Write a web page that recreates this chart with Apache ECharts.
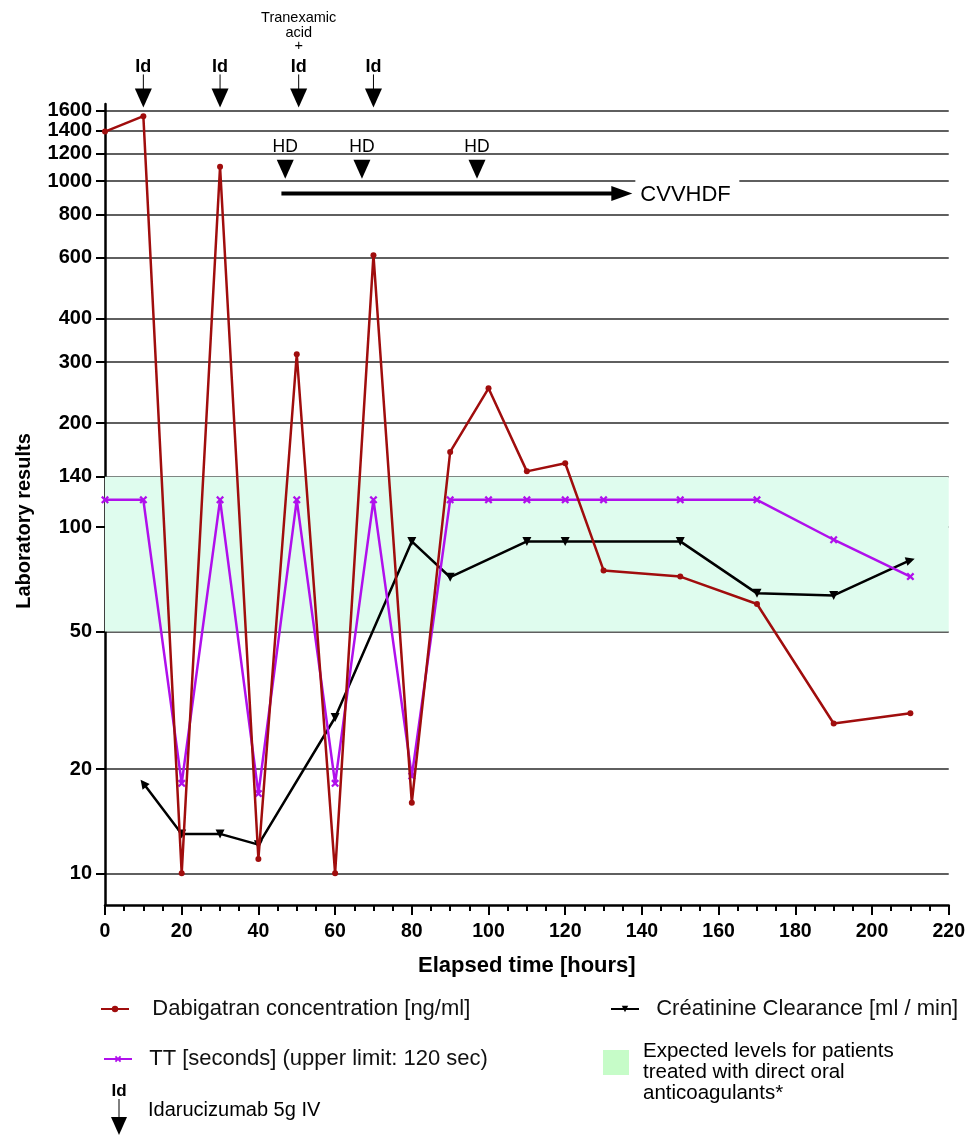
<!DOCTYPE html>
<html><head><meta charset="utf-8">
<script src="https://cdn.jsdelivr.net/npm/echarts@6/dist/echarts.min.js"></script>
<style>html,body{margin:0;padding:0;background:#fff}#c{width:968px;height:1135px}</style>
</head><body><div id="c"></div>
<script>
// ---- data ----
const hoursDabi = [0,10,20,30,40,50,60,70,80,90,100,110,120,130,150,170,190,210];
const dabigatran = [1390,1540,10,1100,11,316,10,611,16,165,252,145,153,75,72,60,27.1,29];
const hoursTT = [0,10,20,30,40,50,60,70,80,90,100,110,120,130,150,170,190,210];
const tt = [120,120,18.2,120,17.0,120,18.2,120,19.1,120,120,120,120,120,120,120,92,72];
const hoursCrCl = [10,20,30,40,60,80,90,110,120,150,170,190,210];
const crcl = [18.2,13.0,13.0,12.1,28.2,91,71.7,91,91,91,64.4,63.5,80.3];
const yTicks = [10,20,50,100,140,200,300,400,600,800,1000,1200,1400,1600];
const expectedRange = [50,140];
const idHours = [10,30,50.5,70];
const tranexamicHour = 50.5;
const hdHours = [47,67,97];
const cvvhdf = {start:46, end:137.5, level:920};

const names = {
  dabi:'Dabigatran concentration [ng/ml]',
  tt:'TT [seconds] (upper limit: 120 sec)',
  crcl:'Créatinine Clearance [ml / min]'
};
const FF = 'Liberation Sans, Arial, sans-serif';
const xSym = 'path://M0,2 L2,0 L5,3 L8,0 L10,2 L7,5 L10,8 L8,10 L5,7 L2,10 L0,8 L3,5 Z';

const pairs = (xs, ys) => xs.map((x,i)=>[x, ys[i]]);
const crclData = hoursCrCl.map((h,i)=>{
  const d = {value:[h, crcl[i]]};
  if (i===0) d.symbolRotate = 38;
  if (i===hoursCrCl.length-1) d.symbolRotate = -73;
  return d;
});

const chart = echarts.init(document.getElementById('c'));
const legendBase = {orient:'horizontal', padding:0, itemWidth:28, itemHeight:8,
  textStyle:{fontSize:22,color:'#111',fontFamily:FF}, selectedMode:false};
chart.setOption({
  animation:false,
  grid:{left:105, right:17, top:104, bottom:230},
  legend:[
    Object.assign({data:[names.dabi], left:100, top:998, formatter:'   {name}'}, legendBase),
    Object.assign({data:[names.tt], left:103, top:1048, formatter:'  {name}'}, legendBase),
    Object.assign({data:[names.crcl], left:610, top:998, formatter:'  {name}'}, legendBase)
  ],
  xAxis:{type:'value', min:0, max:220, interval:20,
    axisLine:{onZero:false, lineStyle:{color:'#000', width:2.5}},
    axisTick:{length:10, lineStyle:{color:'#000', width:2}},
    minorTick:{show:true, splitNumber:4, length:6, lineStyle:{color:'#000', width:2}},
    axisLabel:{color:'#000', fontWeight:'bold', fontSize:19.5, margin:17, fontFamily:FF},
    splitLine:{show:false}, minorSplitLine:{show:false},
    name:'Elapsed time [hours]', nameLocation:'middle', nameGap:50,
    nameTextStyle:{color:'#000', fontWeight:'bold', fontSize:22, fontFamily:FF}
  },
  yAxis:{type:'log', logBase:10, min:8.1, max:1670,
    axisLine:{show:true, onZero:false, lineStyle:{color:'#000', width:2.5}},
    axisTick:{show:true, length:9, customValues:yTicks, lineStyle:{color:'#000', width:2}},
    axisLabel:{customValues:yTicks, formatter:v=>String(Math.round(v)), color:'#000', fontWeight:'bold', fontSize:20, margin:13, fontFamily:FF},
    splitLine:{show:true, lineStyle:{color:'#2a2a2a', width:1.5}}
  },
  series:[
    {name:'band', type:'line', data:[], z:-1, silent:true,
      markArea:{silent:true, itemStyle:{color:'#dffcee'}, data:[[{yAxis:expectedRange[0]},{yAxis:expectedRange[1]}]]}},
    {name:names.crcl, type:'line', data:crclData, color:'#000', symbol:'triangle', symbolRotate:180, symbolSize:9,
      lineStyle:{width:2.5, color:'#000'}, itemStyle:{color:'#000'}, z:3},
    {name:names.tt, type:'line', data:pairs(hoursTT, tt), color:'#b010ec', symbol:xSym, symbolSize:8,
      lineStyle:{width:2.5, color:'#b010ec'}, itemStyle:{color:'#b010ec'}, z:4},
    {name:names.dabi, type:'line', data:pairs(hoursDabi, dabigatran), color:'#a00d0d', symbol:'circle', symbolSize:6,
      lineStyle:{width:2.5, color:'#a00d0d'}, itemStyle:{color:'#a00d0d'}, z:5}
  ]
});

const xp = h => chart.convertToPixel({xAxisIndex:0}, h);
const yp = v => chart.convertToPixel({yAxisIndex:0}, v);
const g = [];
const Z = 100;
function tri(x, y0, y1, w){ return {type:'polygon', z:Z, shape:{points:[[x-w/2,y0],[x+w/2,y0],[x,y1]]}, style:{fill:'#000'}}; }
function txt(x, y, s, size, bold, align){ return {type:'text', z:Z, x:x, y:y, style:{text:s, fill:'#000', font:(bold?'bold ':'')+size+'px '+FF, align:align||'center', verticalAlign:'middle'}}; }
function vline(x, y0, y1, w){ return {type:'line', z:Z, shape:{x1:x,y1:y0,x2:x,y2:y1}, style:{stroke:'#000', lineWidth:w}}; }

const yTop = yp(1600);
idHours.forEach(h=>{
  const x = xp(h);
  g.push(txt(x, yTop-43, 'Id', 18, true));
  g.push(vline(x, yTop-36, yTop-21, 1));
  g.push(tri(x, yTop-22, yTop-3, 17));
});
const xt = xp(tranexamicHour);
g.push(txt(xt, 18, 'Tranexamic', 14.5, false));
g.push(txt(xt, 33, 'acid', 14.5, false));
g.push(txt(xt, 46, '+', 14.5, false));

const y1200 = yp(1200);
hdHours.forEach(h=>{
  const x = xp(h);
  g.push(txt(x, y1200-7, 'HD', 17.5, false));
  g.push(tri(x, y1200+6, y1200+25, 17));
});

const yc = yp(cvvhdf.level);
const xs = xp(cvvhdf.start), xe = xp(cvvhdf.end);
g.push({type:'rect', z:Z, shape:{x:xe+3, y:yp(1000)-2, width:104, height:4}, style:{fill:'#fff'}});
g.push({type:'rect', z:Z, shape:{x:xs, y:yc-2, width:xe-20-xs, height:4}, style:{fill:'#000'}});
g.push({type:'polygon', z:Z, shape:{points:[[xe-21,yc-7.5],[xe-21,yc+7.5],[xe,yc]]}, style:{fill:'#000'}});
g.push(txt(xe+8, yc+1, 'CVVHDF', 22, false, 'left'));

// y axis title
g.push({type:'text', z:Z, x:24, y:521, rotation:Math.PI/2,
  style:{text:'Laboratory results', fill:'#000', font:'bold 20px '+FF, align:'center', verticalAlign:'middle'}});

// extra legend entries
g.push({type:'rect', z:Z, shape:{x:603, y:1050, width:26, height:25}, style:{fill:'#c6fcc8'}});
g.push(txt(643, 1051, 'Expected levels for patients', 20.5, false, 'left'));
g.push(txt(643, 1072, 'treated with direct oral', 20.5, false, 'left'));
g.push(txt(643, 1093, 'anticoagulants*', 20.5, false, 'left'));
g.push(txt(119, 1091, 'Id', 17, true));
g.push(vline(119, 1099, 1119, 1));
g.push(tri(119, 1117, 1135, 16));
g.push(txt(148, 1110, 'Idarucizumab 5g IV', 20, false, 'left'));

chart.setOption({graphic:g});
</script>
</body></html>
